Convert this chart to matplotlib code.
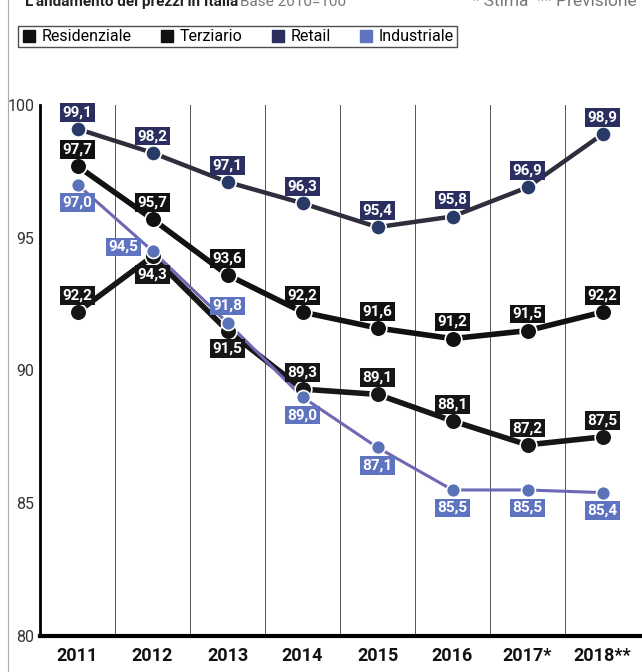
import numpy as np
import matplotlib.pyplot as plt
from matplotlib.lines import Line2D

years = ["2011", "2012", "2013", "2014", "2015", "2016", "2017*", "2018**"]
residenziale = [97.7, 95.7, 93.6, 92.2, 91.6, 91.2, 91.5, 92.2]
terziario = [92.2, 94.3, 91.5, 89.3, 89.1, 88.1, 87.2, 87.5]
retail = [99.1, 98.2, 97.1, 96.3, 95.4, 95.8, 96.9, 98.9]
industriale = [97.0, 94.5, 91.8, 89.0, 87.1, 85.5, 85.5, 85.4]

# where each value label sits: a = above, b = below, l = left
pos_res = "aaaaaaaa"
pos_ter = "abbaaaaa"
pos_ret = "aaaaaaaa"
pos_ind = "blabbbbb"

FONT = ["Roboto", "DejaVu Sans"]
plt.rcParams['font.family'] = FONT

fig = plt.figure(figsize=(6.42, 6.72), dpi=100)
ax = fig.add_axes([40 / 642, 1 - 636 / 672, 600 / 642, 531 / 672])

x = np.arange(len(years))

# values, line colour, marker colour, label box colour, line width, marker size, placement
series = [
    (residenziale, "#111111", "#111111", "#111111", 4.0, 12, pos_res),
    (terziario, "#161616", "#161616", "#161616", 4.0, 12, pos_ter),
    (industriale, "#6e68b4", "#5a72b8", "#5f74c0", 2.2, 10, pos_ind),
    (retail, "#2e2e3c", "#283a66", "#2a2f60", 3.2, 11, pos_ret),
]

for vals, lc, mc, bc, lw, ms, pos in series:
    ax.plot(x, vals, color=lc, lw=lw, zorder=3, solid_capstyle='round')
    ax.plot(x, vals, ls='none', marker='o', ms=ms, mfc=mc, mec='white',
            mew=1.2, zorder=4)
    for xi, v, p in zip(x, vals, pos):
        if p == 'a':
            off = (0, 12)
        elif p == 'b':
            off = (0, -13)
        else:
            off = (-21, 3)
        ax.annotate(f"{v:.1f}".replace(".", ","), (xi, v), xytext=off,
                    textcoords='offset points', ha='center', va='center',
                    fontsize=11, color='white', fontweight='bold',
                    family=FONT, clip_on=False, zorder=6,
                    bbox=dict(boxstyle='square,pad=0.15', fc=bc, ec='none'))

ax.set_xlim(-0.5, len(years) - 0.5)
ax.set_ylim(80, 100)
ax.set_yticks([80, 85, 90, 95, 100])
ax.set_yticklabels(["80", "85", "90", "95", "100"], fontsize=11.5, color='#333333')
ax.set_xticks(x)
ax.set_xticklabels(years, fontsize=13, fontweight='bold', color='#111111')
ax.tick_params(axis='x', length=0, pad=8)
ax.tick_params(axis='y', length=0, pad=4)

for gx in np.arange(0.5, len(years) - 0.5, 1):
    ax.axvline(gx, color='#555555', lw=0.7, zorder=1)

for s in ['top', 'right']:
    ax.spines[s].set_visible(False)
ax.spines['left'].set_linewidth(2)
ax.spines['bottom'].set_linewidth(3)

# legend
handles = [
    Line2D([], [], ls='none', marker='s', ms=9, mfc="#111111", mec="#111111"),
    Line2D([], [], ls='none', marker='s', ms=9, mfc="#111111", mec="#111111"),
    Line2D([], [], ls='none', marker='s', ms=9, mfc="#2a2f60", mec="#2a2f60"),
    Line2D([], [], ls='none', marker='s', ms=9, mfc="#5f74c0", mec="#5f74c0"),
]
leg = fig.legend(handles, ["Residenziale", "Terziario", "Retail", "Industriale"],
                 loc='upper left', bbox_to_anchor=(18 / 642, 1 - 26 / 672),
                 ncol=4, frameon=True, fancybox=False, fontsize=11.5,
                 handletextpad=0.3, columnspacing=1.7, borderpad=0.2,
                 handlelength=1.0, borderaxespad=0)
leg.get_frame().set_edgecolor('#222222')
leg.get_frame().set_linewidth(1.0)

# title line, cut off at the top of the crop
fig.text(25 / 642, 1 - 6 / 672, "L'andamento dei prezzi in Italia", fontsize=11,
         fontweight='bold', va='baseline', color='#222222')
fig.text(240 / 642, 1 - 6 / 672, "Base 2010=100", fontsize=11,
         va='baseline', color='#777777')
fig.text(472 / 642, 1 - 6 / 672, "* Stima  ** Previsione", fontsize=12.5,
         va='baseline', color='#777777')

fig.add_artist(Line2D([8 / 642, 8 / 642], [0, 1], color='#aaaaaa', lw=0.8))

fig.savefig("out.png", dpi=100)
